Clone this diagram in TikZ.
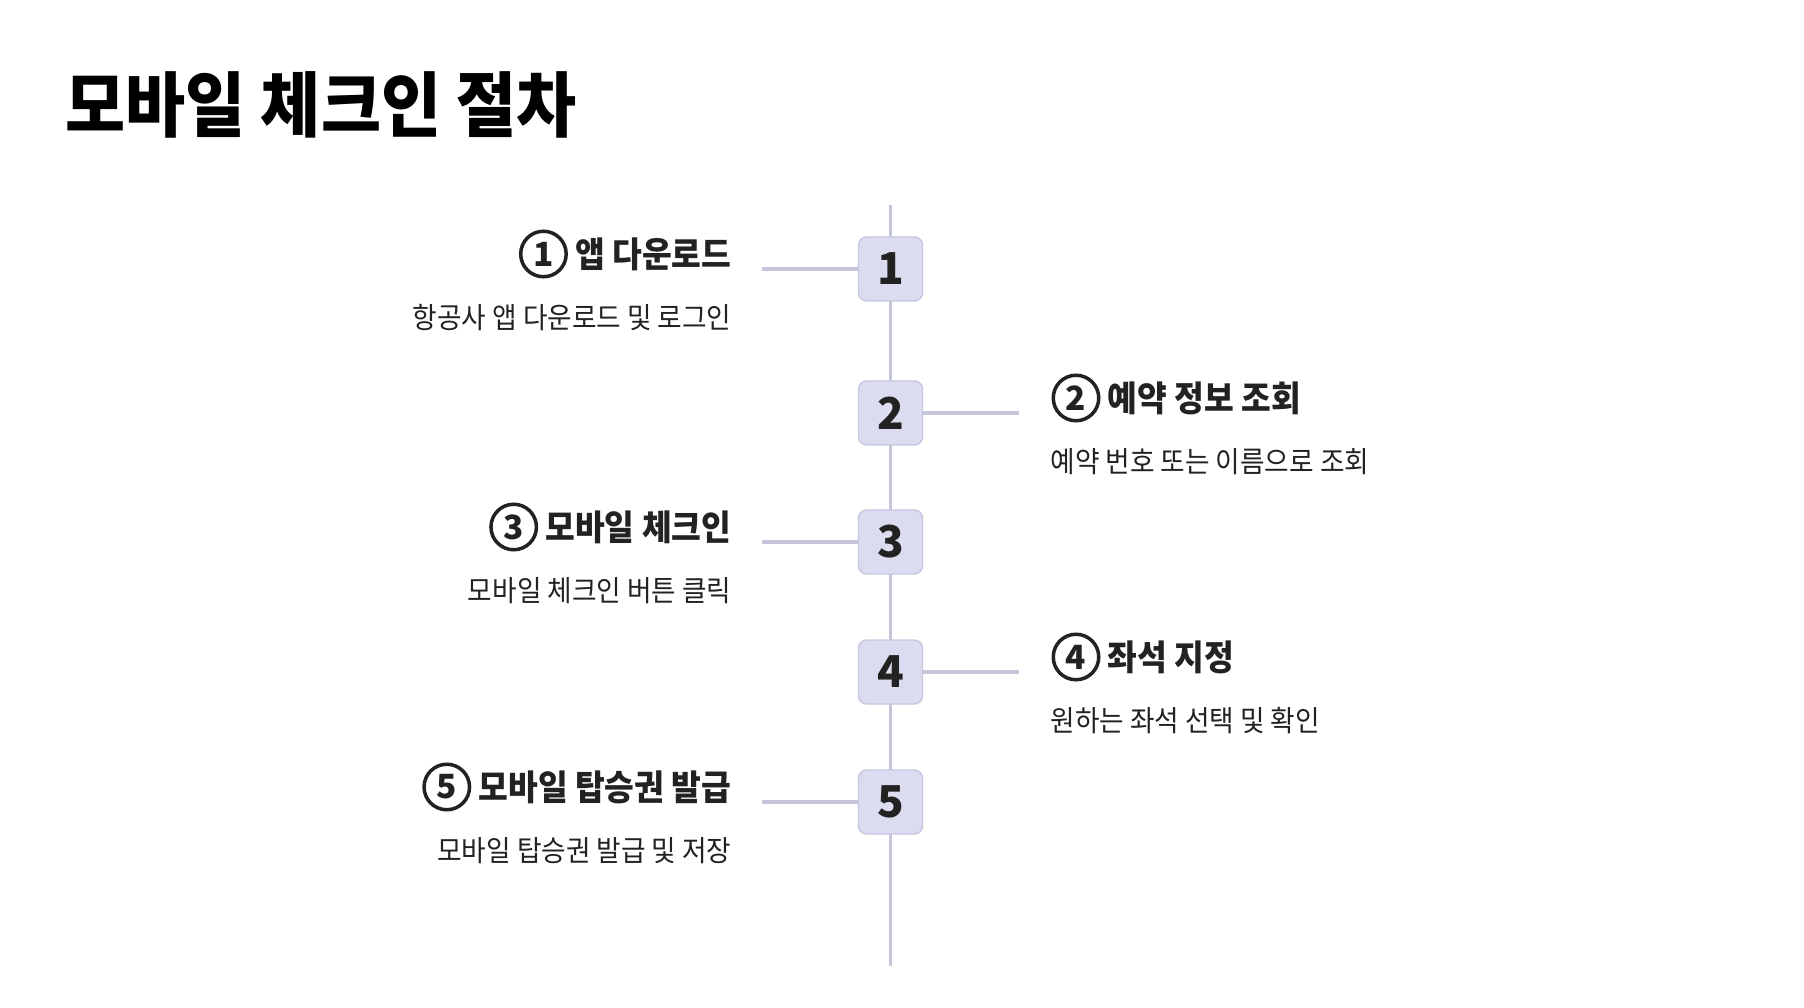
\documentclass[tikz,border=0pt]{standalone}
\usepackage{fontspec}
\setmainfont{Noto Sans CJK KR}[FakeStretch=0.92]
\newfontfamily\digitfont{Noto Sans CJK KR}
\usetikzlibrary{positioning}

\definecolor{boxfill}{HTML}{DCDCF0}
\definecolor{boxline}{HTML}{C6C6E0}
\definecolor{spine}{HTML}{C4C4DA}
\definecolor{ink}{HTML}{222222}

\begin{document}
\begin{tikzpicture}[
            numbox/.style={draw=boxline, fill=boxfill, line width=0.4pt, rounded corners=2.3pt, minimum size=0.64cm, inner sep=0pt, text=ink, font=\digitfont\fontsize{12.5}{13}\selectfont\bfseries},
            circnum/.style={circle, draw=ink, line width=1pt, minimum size=0.455cm, inner sep=0pt, text=ink, font=\digitfont\fontsize{9.5}{10}\selectfont\bfseries},
            head/.style={inner sep=0pt, text=ink, font=\fontsize{10}{11}\selectfont\bfseries},
            sub/.style={inner sep=0pt, text=ink, font=\fontsize{8.25}{9}\selectfont},
            link/.style={draw=spine, line width=0.9pt}
            ]
            \useasboundingbox (0,0) rectangle (18.04,-10.08);
            \node[anchor=west, inner sep=0pt, font=\fontsize{20.2}{22}\selectfont\bfseries] (title) at (0.65,-1.05) {모바일 체크인 절차};

            % timeline
            \coordinate (top) at (8.905,-2.05);
            \coordinate (bot) at (8.905,-9.66);
            \draw[link] (top) -- (bot);

            \node[numbox] (s1) at (8.905,-2.69) {1};
            \node[numbox] (s2) at (8.905,-4.13) {2};
            \node[numbox] (s3) at (8.905,-5.42) {3};
            \node[numbox] (s4) at (8.905,-6.72) {4};
            \node[numbox] (s5) at (8.905,-8.02) {5};

            % left side
            \coordinate (l1) at (7.62,-2.69);
            \coordinate (l3) at (7.62,-5.42);
            \coordinate (l5) at (7.62,-8.02);
            \draw[link] (l1) -- (s1);
            \draw[link] (l3) -- (s3);
            \draw[link] (l5) -- (s5);

            \node[head, anchor=east] (h1) at (7.32,-2.54) {앱 다운로드};
            \node[circnum, left=0.065 of h1] (c1) {1};
            \node[sub, anchor=east] (d1) at (7.32,-3.18) {항공사 앱 다운로드 및 로그인};

            \node[head, anchor=east] (h3) at (7.32,-5.27) {모바일 체크인};
            \node[circnum, left=0.065 of h3] (c3) {3};
            \node[sub, anchor=east] (d3) at (7.32,-5.91) {모바일 체크인 버튼 클릭};

            \node[head, anchor=east] (h5) at (7.32,-7.87) {모바일 탑승권 발급};
            \node[circnum, left=0.065 of h5] (c5) {5};
            \node[sub, anchor=east] (d5) at (7.32,-8.51) {모바일 탑승권 발급 및 저장};

            % right side
            \coordinate (r2) at (10.19,-4.13);
            \coordinate (r4) at (10.19,-6.72);
            \draw[link] (s2) -- (r2);
            \draw[link] (s4) -- (r4);

            \node[circnum, anchor=west] (c2) at (10.515,-3.98) {2};
            \node[head, right=0.065 of c2] (h2) {예약 정보 조회};
            \node[sub, anchor=west] (d2) at (10.5,-4.62) {예약 번호 또는 이름으로 조회};

            \node[circnum, anchor=west] (c4) at (10.515,-6.57) {4};
            \node[head, right=0.065 of c4] (h4) {좌석 지정};
            \node[sub, anchor=west] (d4) at (10.5,-7.21) {원하는 좌석 선택 및 확인};
\end{tikzpicture}
\end{document}
